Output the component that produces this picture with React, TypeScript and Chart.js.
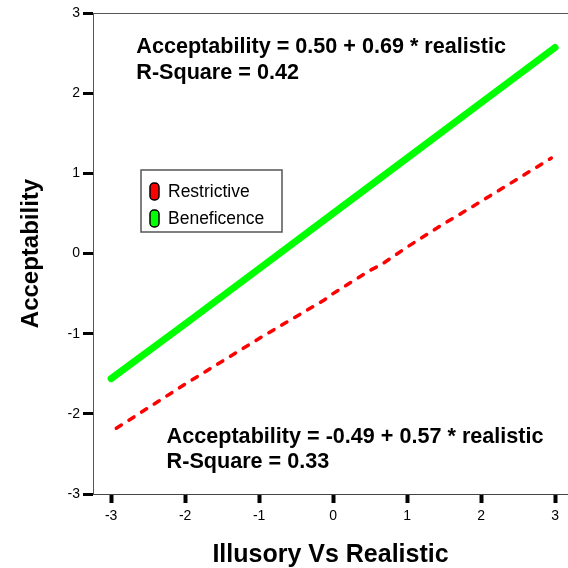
import React, { useEffect, useRef } from "react";
import { Chart, registerables } from "chart.js";
Chart.register(...registerables);

const xTicks = [-3, -2, -1, 0, 1, 2, 3];
const yTicks = [-3, -2, -1, 0, 1, 2, 3];
const seriesLabels = ["Restrictive", "Beneficence"];
const seriesColors = ["#ff0000", "#00ff00"];
const restrictiveX = [-2.93, -2.0, -1.0, -0.12, 0.0, 0.5, 0.65, 1.0, 1.46, 2.0, 2.95];
const restrictiveY = [-2.18, -1.63, -1.06, -0.58, -0.5, -0.21, -0.14, 0.08, 0.35, 0.65, 1.19];
const beneficenceX = [-3, -2, -1, 0, 1, 2, 3];
const beneficenceY = [-1.56, -0.88, -0.19, 0.5, 1.19, 1.88, 2.57];
const annotationX = [-2.66, -2.25];
const annotationY = [2.5, -2.36];
const annotationLines = [
  ["Acceptability = 0.50 + 0.69 * realistic", "R-Square = 0.42"],
  ["Acceptability = -0.49 + 0.57 * realistic", "R-Square = 0.33"],
];
const xTitle = "Illusory Vs Realistic";
const yTitle = "Acceptability";

const FONT = "'Liberation Sans', Arial, Helvetica, sans-serif";

const extras = {
  id: "extras",
  afterDatasetsDraw(chart: any) {
    const { ctx, chartArea, scales } = chart;
    ctx.save();
    // top frame line
    ctx.strokeStyle = "#555";
    ctx.lineWidth = 1;
    ctx.beginPath();
    ctx.moveTo(chartArea.left, chartArea.top + 0.5);
    ctx.lineTo(chartArea.right, chartArea.top + 0.5);
    ctx.stroke();

    // annotations
    ctx.fillStyle = "#000";
    ctx.font = `bold 21.6px ${FONT}`;
    ctx.textBaseline = "alphabetic";
    ctx.textAlign = "left";
    annotationLines.forEach((lines, i) => {
      const px = scales.x.getPixelForValue(annotationX[i]);
      const py = scales.y.getPixelForValue(annotationY[i]);
      lines.forEach((t, j) => ctx.fillText(t, px, py + j * 25.5));
    });

    // legend
    const lx = chartArea.left + 48;
    const ly = chartArea.top + 157;
    const lw = 141;
    const lh = 62;
    ctx.strokeStyle = "#555";
    ctx.lineWidth = 1.5;
    ctx.strokeRect(lx, ly, lw, lh);
    ctx.font = `17.5px ${FONT}`;
    ctx.textBaseline = "middle";
    seriesLabels.forEach((lab, i) => {
      const cy = ly + 21 + i * 27;
      const ix = lx + 9;
      ctx.beginPath();
      if (ctx.roundRect) ctx.roundRect(ix, cy - 8, 9, 17, 4);
      else ctx.rect(ix, cy - 8, 9, 17);
      ctx.fillStyle = seriesColors[i];
      ctx.fill();
      ctx.strokeStyle = "#000";
      ctx.lineWidth = 1.5;
      ctx.stroke();
      ctx.fillStyle = "#000";
      ctx.fillText(lab, lx + 27, cy + 1);
    });
    ctx.restore();
  },
};

export default function App() {
  const ref = useRef<HTMLCanvasElement>(null);
  useEffect(() => {
    if (!ref.current) return;
    Chart.defaults.font.family = FONT;
    const chart = new Chart(ref.current, {
      type: "line",
      data: {
        datasets: [
          {
            label: seriesLabels[0],
            data: restrictiveX.map((x, i) => ({ x, y: restrictiveY[i] })),
            borderColor: seriesColors[0],
            borderWidth: 3.5,
            borderDash: [6, 9],
            borderCapStyle: "round",
            pointRadius: 0,
            tension: 0,
            fill: false,
          },
          {
            label: seriesLabels[1],
            data: beneficenceX.map((x, i) => ({ x, y: beneficenceY[i] })),
            borderColor: seriesColors[1],
            borderWidth: 7,
            borderCapStyle: "round",
            pointRadius: 0,
            tension: 0,
            fill: false,
          },
        ],
      },
      options: {
        animation: false,
        responsive: false,
        devicePixelRatio: 1,
        layout: { padding: { top: 13, right: 0, bottom: 0, left: 0 } },
        plugins: { legend: { display: false }, tooltip: { enabled: false } },
        scales: {
          x: {
            type: "linear",
            min: -3.245,
            max: 3.175,
            afterBuildTicks: (s: any) => {
              s.ticks = xTicks.map((v) => ({ value: v }));
            },
            afterFit: (s: any) => {
              s.height = 74;
            },
            grid: {
              drawOnChartArea: false,
              drawTicks: true,
              tickLength: 9,
              tickWidth: 4,
              tickColor: "#000",
            },
            border: { display: true, color: "#444", width: 1 },
            ticks: {
              color: "#000",
              font: { size: 14 },
              padding: 5,
              maxRotation: 0,
              autoSkip: false,
            },
            title: {
              display: true,
              text: xTitle,
              color: "#000",
              font: { size: 25, weight: "bold", lineHeight: 1 },
              padding: { top: 0, bottom: 0 },
            },
          },
          y: {
            type: "linear",
            min: -3,
            max: 3,
            afterBuildTicks: (s: any) => {
              s.ticks = yTicks.map((v) => ({ value: v }));
            },
            afterFit: (s: any) => {
              s.width = 93;
            },
            grid: {
              drawOnChartArea: false,
              drawTicks: true,
              tickLength: 10,
              tickWidth: 3,
              tickColor: "#000",
            },
            border: { display: true, color: "#555", width: 1 },
            ticks: { color: "#000", font: { size: 14 }, padding: 3 },
            title: {
              display: true,
              text: yTitle,
              color: "#000",
              font: { size: 24, weight: "bold", lineHeight: 1 },
              padding: { top: 19, bottom: 0 },
            },
          },
        },
      },
      plugins: [extras],
    } as any);
    return () => chart.destroy();
  }, []);
  return (
    <div style={{ position: "fixed", left: 0, top: 0, width: 568, height: 568, background: "#fff" }}>
      <canvas ref={ref} width={568} height={568} />
    </div>
  );
}
